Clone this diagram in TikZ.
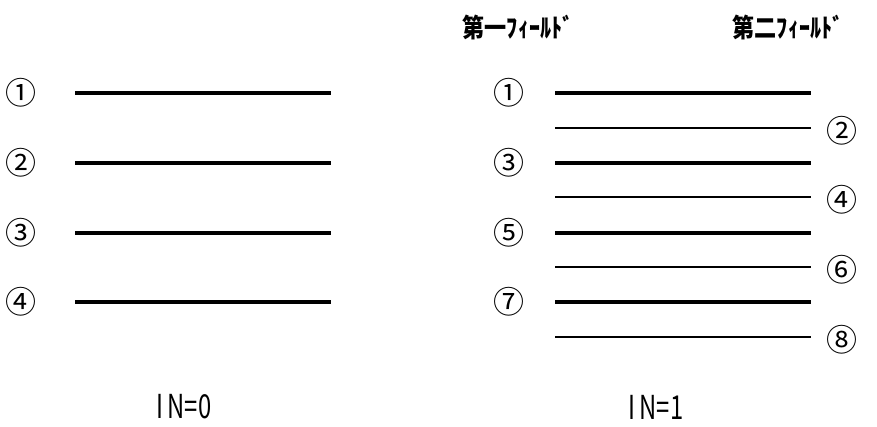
\documentclass[tikz,border=0pt]{standalone}
\usepackage{fontspec}
\newfontfamily\jpfont{Noto Sans CJK JP}
\begin{document}
\begin{tikzpicture}[x=1pt,y=1pt,
  thickline/.style={line width=3.6pt},
  thinline/.style={line width=1.4pt},
  num/.style={font=\jpfont\fontsize{31}{31}\selectfont, inner sep=0pt},
  head/.style={font=\jpfont\bfseries\fontsize{26}{26}\selectfont, inner sep=0pt},
  caption/.style={font=\jpfont\fontsize{33}{33}\selectfont, inner sep=0pt}]
\useasboundingbox (0,0) rectangle (877,426);

% left panel: four lines, one field
\foreach \i/\y in {1/333,2/263,3/193,4/124}{
  \coordinate (La\i) at (75,\y);
  \coordinate (Lb\i) at (331,\y);
  \draw[thickline] (La\i) -- (Lb\i);
}
\node[num] (n1) at (21,333) {①};
\node[num] (n2) at (21,263) {②};
\node[num] (n3) at (21,193) {③};
\node[num] (n4) at (21,124) {④};

% right panel: first field (thick) and second field (thin)
\foreach \i/\y in {1/333,2/263,3/193,4/124}{
  \coordinate (Ra\i) at (555,\y);
  \coordinate (Rb\i) at (811,\y);
  \draw[thickline] (Ra\i) -- (Rb\i);
}
\foreach \i/\y in {1/298,2/229,3/159,4/89}{
  \coordinate (Sa\i) at (555,\y);
  \coordinate (Sb\i) at (811,\y);
  \draw[thinline] (Sa\i) -- (Sb\i);
}
\node[num] (m1) at (509,333) {①};
\node[num] (m3) at (509,263) {③};
\node[num] (m5) at (509,193) {⑤};
\node[num] (m7) at (509,124) {⑦};
\node[num] (m2) at (842,295) {②};
\node[num] (m4) at (842,226) {④};
\node[num] (m6) at (842,156) {⑥};
\node[num] (m8) at (842,86) {⑧};

% field headings
\node[head] (f1) at (518,399) {\scalebox{0.85}[1]{第一ﾌｨｰﾙﾄﾞ}};
\node[head] (f2) at (788,399) {\scalebox{0.85}[1]{第二ﾌｨｰﾙﾄﾞ}};

% captions
\node[caption] (c0) at (184,19) {\scalebox{0.72}[1]{I\,N=0}};
\node[caption] (c1) at (656,19) {\scalebox{0.72}[1]{I\,N=1}};
\end{tikzpicture}
\end{document}
